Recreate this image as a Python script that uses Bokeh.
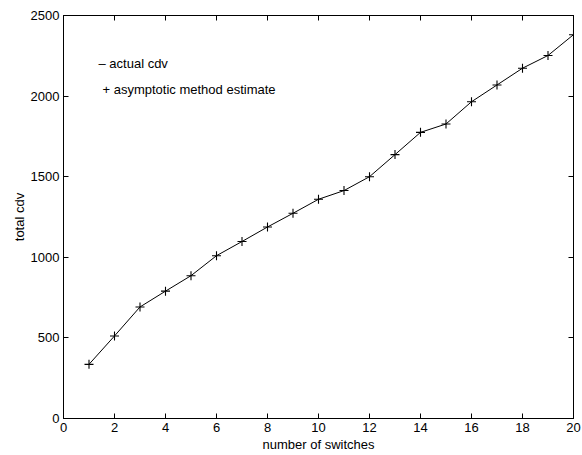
from bokeh.plotting import figure
from bokeh.models import LinearAxis, Range1d, Label, FixedTicker
from bokeh.embed import file_html
from bokeh.resources import INLINE

switches = list(range(1, 21))
actual_cdv = [336, 512, 692, 790, 886, 1010, 1098, 1188, 1273, 1360,
              1414, 1500, 1637, 1775, 1827, 1965, 2069, 2173, 2252, 2381]
estimate_cdv = [336, 512, 692, 790, 886, 1010, 1098, 1188, 1273, 1360,
                1414, 1500, 1637, 1775, 1827, 1965, 2069, 2173, 2252, 2381]
x_ticks = [0, 2, 4, 6, 8, 10, 12, 14, 16, 18, 20]
y_ticks = [0, 500, 1000, 1500, 2000, 2500]
legend_lines = ["\u2013 actual cdv", "+ asymptotic method estimate"]

FONT = "Liberation Sans"
FS = "13px"

p = figure(width=582, height=455, output_backend="svg", toolbar_location=None,
           x_range=Range1d(0, 20), y_range=Range1d(0, 2500),
           min_border_left=63, min_border_right=9, min_border_top=15,
           min_border_bottom=37)
p.outline_line_color = "black"
p.outline_line_width = 1
p.xgrid.visible = False
p.ygrid.visible = False
p.background_fill_color = "white"
p.border_fill_color = "white"

def style(ax, ticks, labels=True):
    ax.ticker = FixedTicker(ticks=ticks)
    ax.minor_tick_line_color = None
    ax.major_tick_in = 5
    ax.major_tick_out = 0
    ax.major_tick_line_color = "black"
    ax.axis_line_color = "black"
    if labels:
        ax.major_label_text_font = FONT
        ax.major_label_text_font_size = FS
        ax.major_label_text_color = "black"
        ax.major_label_standoff = 4
        ax.axis_label_text_font = FONT
        ax.axis_label_text_font_size = FS
        ax.axis_label_text_font_style = "normal"
        ax.axis_label_text_color = "black"
    else:
        ax.major_label_overrides = {t: "" for t in ticks}
        ax.major_label_text_color = None
        ax.major_label_text_font_size = "1px"
        ax.major_label_standoff = 0

style(p.xaxis[0], x_ticks)
style(p.yaxis[0], y_ticks)
p.xaxis[0].axis_label = "number of switches"
p.xaxis[0].axis_label_standoff = 2
p.yaxis[0].axis_label = "total cdv"
p.yaxis[0].axis_label_standoff = 1

top = LinearAxis()
style(top, x_ticks, labels=False)
p.add_layout(top, "above")
right = LinearAxis()
style(right, y_ticks, labels=False)
p.add_layout(right, "right")

p.line(switches, actual_cdv, line_color="black", line_width=1)
p.scatter(switches, estimate_cdv, marker="cross", size=9, line_color="black",
          line_width=1.1)

# positions in screen px relative to the plot frame (bottom-left origin)
p.add_layout(Label(x=35, y=355, x_units="screen", y_units="screen",
                   text=legend_lines[0], text_font=FONT, text_font_size=FS,
                   text_baseline="middle", text_color="black"))
p.add_layout(Label(x=39, y=329, x_units="screen", y_units="screen",
                   text=legend_lines[1], text_font=FONT, text_font_size=FS,
                   text_baseline="middle", text_color="black"))

open("out.html", "w").write(file_html(p, INLINE))
